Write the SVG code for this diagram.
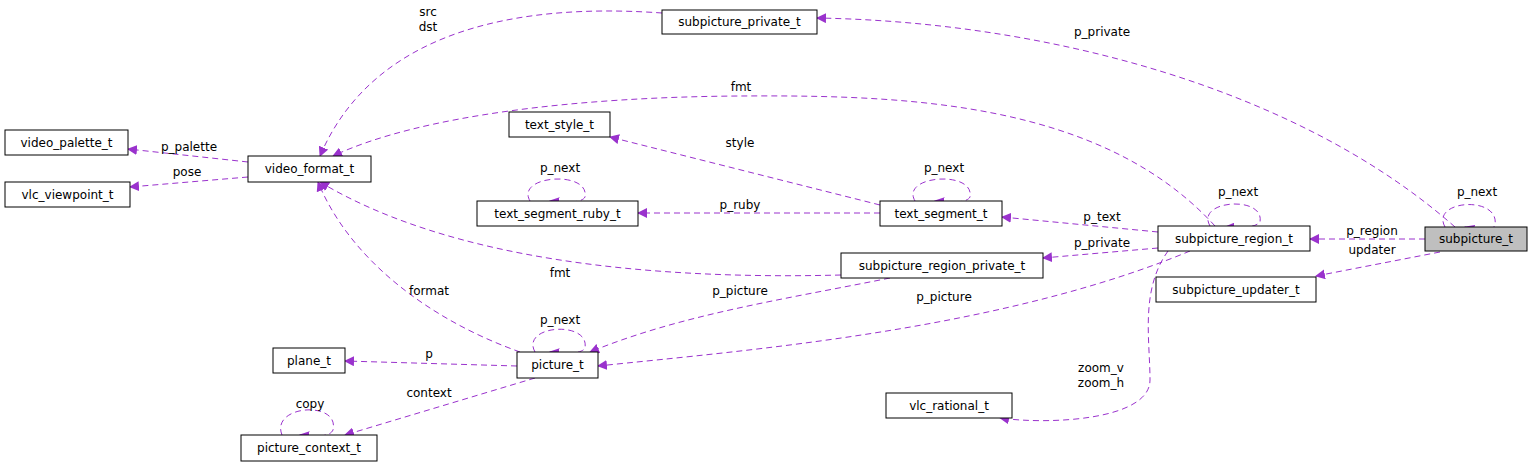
<svg xmlns="http://www.w3.org/2000/svg" width="1533" height="468" viewBox="0 0 1533 468">
<style>
.n rect{fill:#fff;stroke:#000;stroke-width:1}
.n text,.l{font-family:"DejaVu Sans",sans-serif;font-size:12px;fill:#000}
.n text{text-anchor:middle}
.l{text-anchor:middle}
.e path{fill:none;stroke:#9a32cd;stroke-dasharray:6,4;stroke-width:1}
</style>
<defs><marker id="a" viewBox="0 0 10 10" refX="9" refY="5" markerWidth="10" markerHeight="10" markerUnits="userSpaceOnUse" orient="auto"><path d="M0,0L10,5L0,10z" fill="#9a32cd"/></marker></defs>
<rect width="1533" height="468" fill="#fff"/>
<g class="e">
<path d="M1455,227C1300,90 1050,22 817,18" marker-end="url(#a)"/>
<path d="M1445,227C1430,200 1500,195 1495,225C1492,232 1480,232 1465,227" marker-end="url(#a)"/>
<path d="M1425,239L1310,239" marker-end="url(#a)"/>
<path d="M1440,252L1316,276" marker-end="url(#a)"/>
<path d="M1210,226C1195,200 1265,195 1260,222C1255,228 1240,228 1225,227" marker-end="url(#a)"/>
<path d="M1215,226C1100,100 900,95 740,96C580,97 420,115 333,156" marker-end="url(#a)"/>
<path d="M1158,232L1002,217" marker-end="url(#a)"/>
<path d="M1158,248L1043,258" marker-end="url(#a)"/>
<path d="M1190,251C1000,330 750,350 598,366" marker-end="url(#a)"/>
<path d="M1168,251C1140,290 1150,340 1150,380C1150,420 1050,425 1000,418" marker-end="url(#a)"/>
<path d="M841,275C650,280 450,260 320,182" marker-end="url(#a)"/>
<path d="M890,278C780,300 680,315 590,352" marker-end="url(#a)"/>
<path d="M880,205L610,137" marker-end="url(#a)"/>
<path d="M880,213L638,213" marker-end="url(#a)"/>
<path d="M915,201C900,175 975,170 970,197C967,203 950,203 935,201" marker-end="url(#a)"/>
<path d="M530,201C515,175 590,170 585,197C582,203 565,203 550,201" marker-end="url(#a)"/>
<path d="M662,13C550,5 380,15 320,156" marker-end="url(#a)"/>
<path d="M248,162L128,149" marker-end="url(#a)"/>
<path d="M248,177L130,187" marker-end="url(#a)"/>
<path d="M520,352C430,320 350,260 318,182" marker-end="url(#a)"/>
<path d="M535,352C520,325 590,320 585,348C582,354 565,354 550,352" marker-end="url(#a)"/>
<path d="M517,366L345,361" marker-end="url(#a)"/>
<path d="M535,378L345,435" marker-end="url(#a)"/>
<path d="M282,435C270,405 340,400 333,430C330,437 315,437 300,435" marker-end="url(#a)"/>
</g>
<g>
<text class="l" x="1102" y="36">p_private</text>
<text class="l" x="1477" y="196">p_next</text>
<text class="l" x="1372" y="235">p_region</text>
<text class="l" x="1372" y="254">updater</text>
<text class="l" x="1238" y="196">p_next</text>
<text class="l" x="741" y="91">fmt</text>
<text class="l" x="1102" y="221">p_text</text>
<text class="l" x="1102" y="247">p_private</text>
<text class="l" x="944" y="301">p_picture</text>
<text class="l" x="1101" y="372">zoom_v</text>
<text class="l" x="1101" y="387">zoom_h</text>
<text class="l" x="560" y="277">fmt</text>
<text class="l" x="740" y="295">p_picture</text>
<text class="l" x="740" y="147">style</text>
<text class="l" x="740" y="209">p_ruby</text>
<text class="l" x="944" y="172">p_next</text>
<text class="l" x="560" y="172">p_next</text>
<text class="l" x="428" y="16">src</text>
<text class="l" x="428" y="31">dst</text>
<text class="l" x="189" y="151">p_palette</text>
<text class="l" x="187" y="176">pose</text>
<text class="l" x="429" y="295">format</text>
<text class="l" x="560" y="324">p_next</text>
<text class="l" x="429" y="358">p</text>
<text class="l" x="429" y="397">context</text>
<text class="l" x="310" y="408">copy</text>
</g>
<g class="n" id="subpicture_t"><rect x="1425" y="227" width="102" height="24" style="fill:#bfbfbf"/><text x="1476" y="243">subpicture_t</text></g>
<g class="n" id="subpicture_private_t"><rect x="662" y="10" width="155" height="24"/><text x="739.5" y="26">subpicture_private_t</text></g>
<g class="n" id="video_palette_t"><rect x="5" y="130" width="123" height="25"/><text x="66.5" y="147">video_palette_t</text></g>
<g class="n" id="vlc_viewpoint_t"><rect x="5" y="182" width="125" height="25"/><text x="67.5" y="199">vlc_viewpoint_t</text></g>
<g class="n" id="video_format_t"><rect x="248" y="156" width="123" height="26"/><text x="309.5" y="173">video_format_t</text></g>
<g class="n" id="text_style_t"><rect x="509" y="112" width="101" height="25"/><text x="559.5" y="129">text_style_t</text></g>
<g class="n" id="text_segment_ruby_t"><rect x="477" y="201" width="161" height="25"/><text x="557.5" y="218">text_segment_ruby_t</text></g>
<g class="n" id="text_segment_t"><rect x="880" y="201" width="122" height="25"/><text x="941" y="218">text_segment_t</text></g>
<g class="n" id="subpicture_region_t"><rect x="1158" y="226" width="152" height="25"/><text x="1234" y="243">subpicture_region_t</text></g>
<g class="n" id="subpicture_region_private_t"><rect x="841" y="253" width="202" height="25"/><text x="942" y="270">subpicture_region_private_t</text></g>
<g class="n" id="subpicture_updater_t"><rect x="1156" y="277" width="160" height="25"/><text x="1236" y="294">subpicture_updater_t</text></g>
<g class="n" id="plane_t"><rect x="273" y="348" width="72" height="25"/><text x="309" y="365">plane_t</text></g>
<g class="n" id="picture_t"><rect x="517" y="352" width="81" height="26"/><text x="557.5" y="369">picture_t</text></g>
<g class="n" id="vlc_rational_t"><rect x="886" y="393" width="126" height="25"/><text x="949" y="410">vlc_rational_t</text></g>
<g class="n" id="picture_context_t"><rect x="241" y="435" width="136" height="26"/><text x="309" y="452">picture_context_t</text></g>
</svg>
